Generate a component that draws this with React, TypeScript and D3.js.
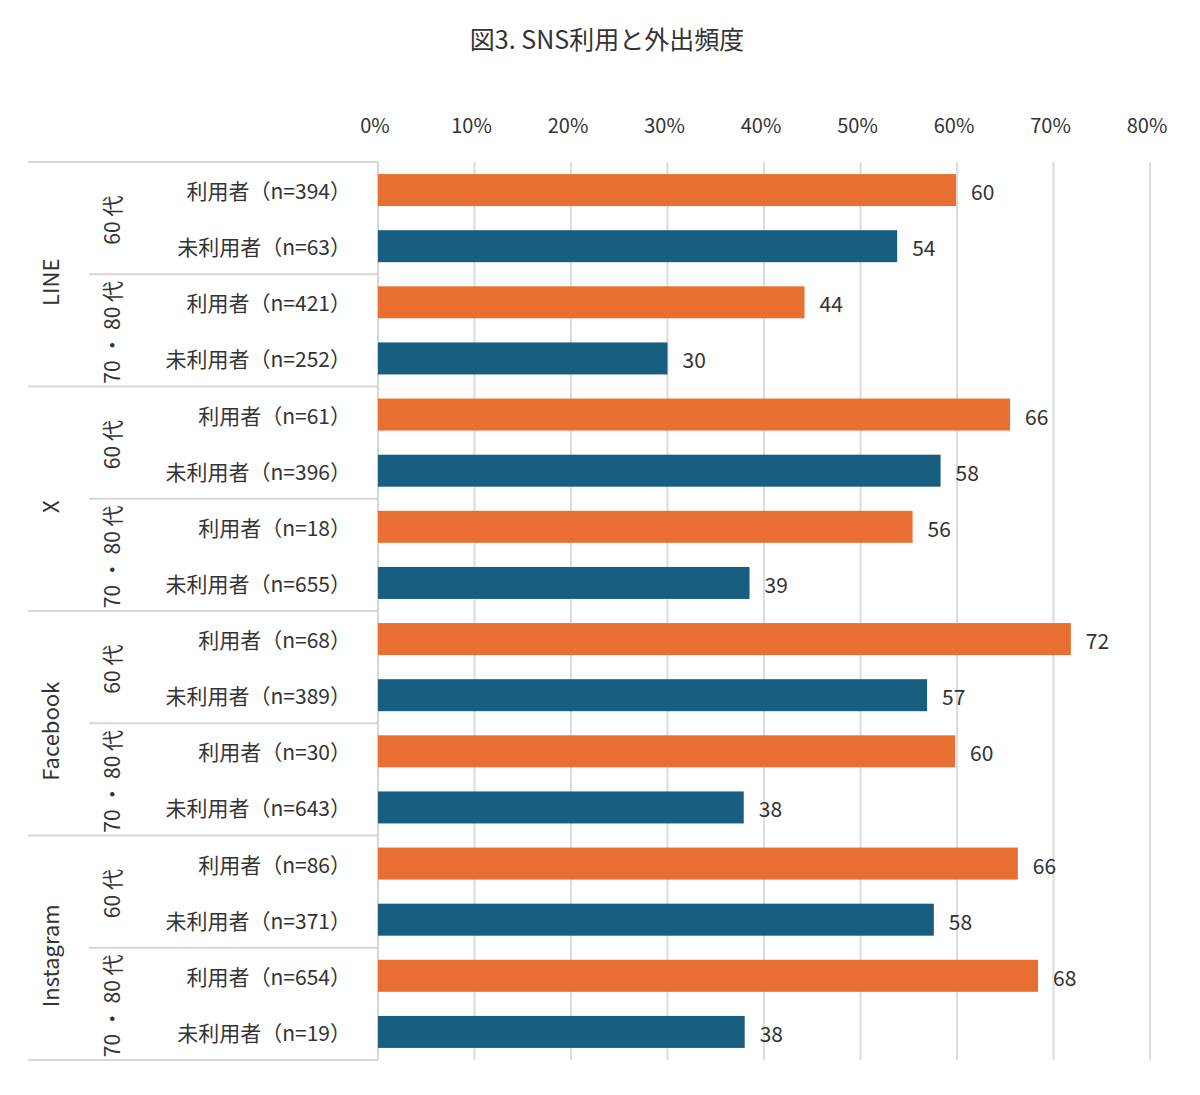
import React from "react";
import * as d3 from "d3";

const title = "図3. SNS利用と外出頻度";
const platforms = ["LINE", "X", "Facebook", "Instagram"];
const ageGroups = ["60 代", "70 ・ 80 代"];
const userTypes = ["利用者", "未利用者"];
const sampleSizes = [394, 63, 421, 252, 61, 396, 18, 655, 68, 389, 30, 643, 86, 371, 654, 19];
// bar lengths (percent)
const barValues = [59.9, 53.8, 44.2, 30.0, 65.5, 58.3, 55.4, 38.5, 71.8, 56.9, 59.8, 37.9, 66.3, 57.6, 68.4, 38.0];
// printed data labels
const valueLabels = [60, 54, 44, 30, 66, 58, 56, 39, 72, 57, 60, 38, 66, 58, 68, 38];
const ticks = [0, 10, 20, 30, 40, 50, 60, 70, 80];
const colors = ["#E86F31", "#175E80"];

const W = 1200;
const H = 1095;
const FONT = "'Noto Sans CJK JP', 'Noto Sans', sans-serif";
const TXT = "#333";
const LINE_C = "#d6d6d6";

export default function App() {
  const x = d3.scaleLinear().domain([0, 80]).range([378, 1150]);
  const rows = d3.range(barValues.length);
  const y = d3
    .scaleBand<number>()
    .domain(rows)
    .range([162, 1060])
    .paddingInner(0.43)
    .paddingOuter(0.215);
  const step = y.step();
  const top = 162;
  const bottom = 1060;
  const groupH = step * 4;
  const subH = step * 2;

  return (
    <svg
      width={W}
      height={H}
      style={{ position: "absolute", left: 0, top: 0, display: "block", background: "#fff" }}
      fontFamily={FONT}
    >
      <text x={607} y={49} textAnchor="middle" fontSize={25} fill={TXT}>
        {title}
      </text>
      {ticks.map((t) => (
        <g key={t}>
          <text x={x(t) - 3} y={133} textAnchor="middle" fontSize={20} fill={TXT}>
            {t + "%"}
          </text>
          {t > 0 && (
            <line x1={x(t)} x2={x(t)} y1={top} y2={bottom} stroke="#dcdcdc" strokeWidth={2} />
          )}
        </g>
      ))}
      <line x1={x(0)} x2={x(0)} y1={top} y2={bottom} stroke={LINE_C} strokeWidth={2} />
      {platforms.map((p, gi) => {
        const gy = top + gi * groupH;
        return (
          <g key={p}>
            <line x1={28} x2={x(0)} y1={gy} y2={gy} stroke={LINE_C} strokeWidth={2} />
            <line x1={89} x2={x(0)} y1={gy + subH} y2={gy + subH} stroke={LINE_C} strokeWidth={2} />
            <text
              transform={`translate(49,${gy + groupH / 2 + 8}) rotate(-90)`}
              textAnchor="middle"
              dominantBaseline="central"
              fontSize={22}
              fill={TXT}
            >
              {p}
            </text>
            {ageGroups.map((a, ai) => (
              <text
                key={a}
                transform={`translate(111,${gy + ai * subH + subH / 2 + 2}) rotate(-90)`}
                textAnchor="middle"
                dominantBaseline="central"
                fontSize={21}
                fill={TXT}
              >
                {a}
              </text>
            ))}
          </g>
        );
      })}
      <line x1={28} x2={x(0)} y1={bottom} y2={bottom} stroke={LINE_C} strokeWidth={2} />
      {rows.map((i) => {
        const yy = y(i)!;
        const bw = y.bandwidth();
        const v = barValues[i];
        return (
          <g key={i}>
            <text
              x={351}
              y={yy + bw / 2}
              textAnchor="end"
              dominantBaseline="central"
              fontSize={21}
              fill={TXT}
            >
              {`${userTypes[i % 2]}（n=${sampleSizes[i]}）`}
            </text>
            <rect x={x(0)} y={yy} width={x(v) - x(0)} height={bw} fill={colors[i % 2]} />
            <text
              x={x(v) + 15}
              y={yy + bw / 2 + 1}
              dominantBaseline="central"
              fontSize={21}
              fill={TXT}
            >
              {valueLabels[i]}
            </text>
          </g>
        );
      })}
    </svg>
  );
}
